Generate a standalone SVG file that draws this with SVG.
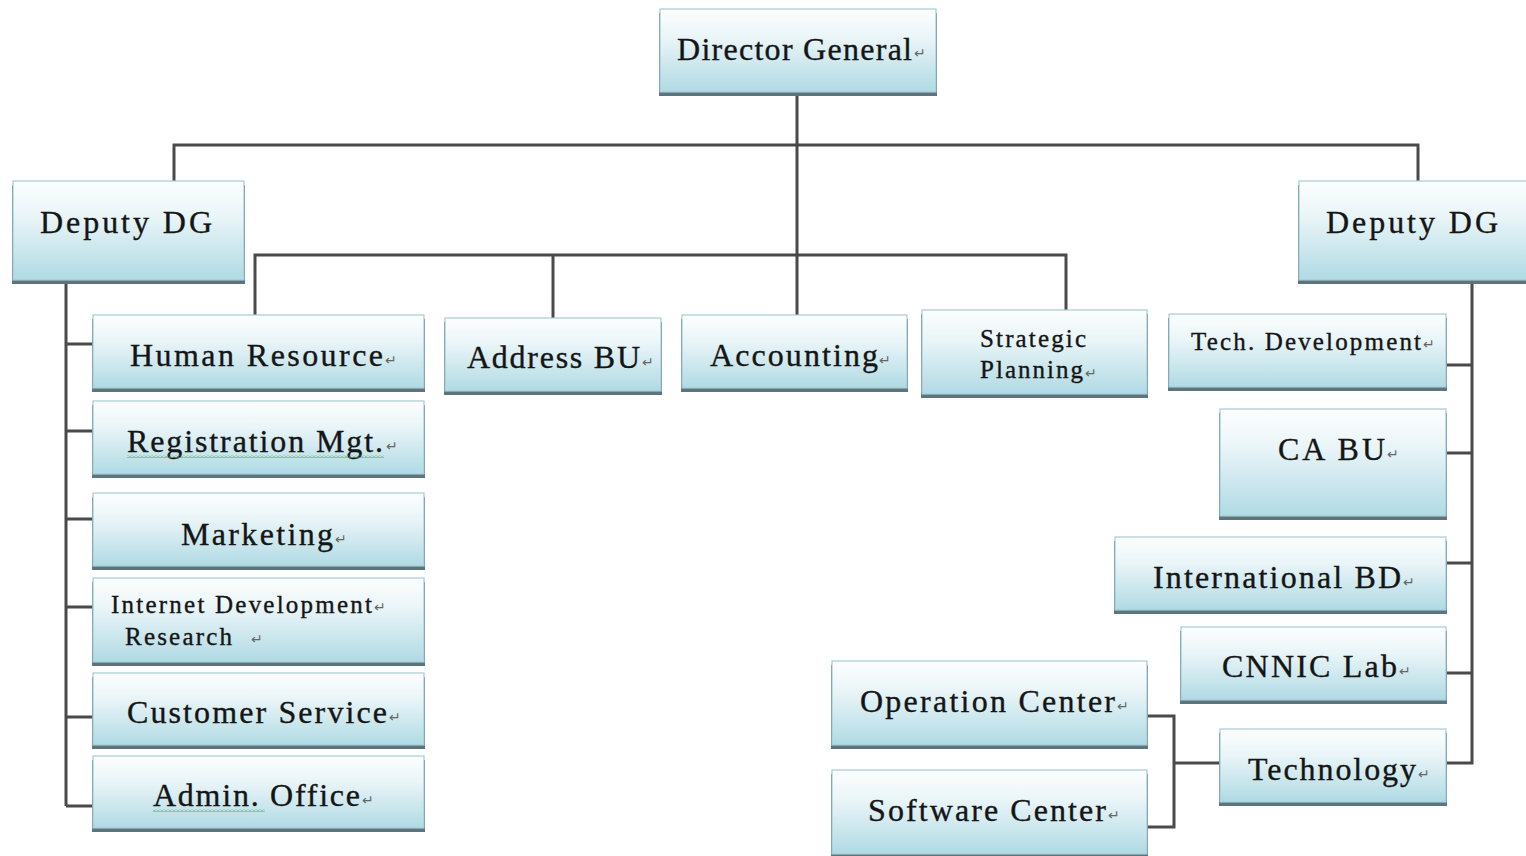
<svg xmlns="http://www.w3.org/2000/svg" width="1526" height="856" viewBox="0 0 1526 856">
<defs>
<linearGradient id="g" x1="0" y1="0" x2="0" y2="1">
<stop offset="0" stop-color="#fdfefe"/>
<stop offset="0.35" stop-color="#eaf5f8"/>
<stop offset="1" stop-color="#b0dae4"/>
</linearGradient>
<pattern id="wave" x="0" y="0" width="4" height="3" patternUnits="userSpaceOnUse">
<path d="M0 2.5 L2 0.5 L4 2.5" stroke="#3caa6a" stroke-width="1" fill="none"/>
</pattern>
<style>
.bx{fill:url(#g);stroke:#a6cbd5;stroke-width:1.2}
.sh{fill:#5e747c}
.t{font-family:"Liberation Serif","DejaVu Serif",serif;font-size:32px;fill:#151515;stroke:#151515;stroke-width:0.35}
.s{font-size:25px}
.pm{font-family:"DejaVu Sans",sans-serif;font-size:14px;fill:#666}
.c{stroke:#4a4a4a;stroke-width:3;fill:none}
</style>
</defs>
<rect width="1526" height="856" fill="#ffffff"/>

<g id="connectors">
<path class="c" d="M797 92 V315"/>
<path class="c" d="M174 181 V145 H1418 V181"/>
<path class="c" d="M255 315 V255 H1066 V310"/>
<path class="c" d="M553 255 V318"/>
<path class="c" d="M66 280 V806"/>
<path class="c" d="M66 344 H93 M66 431 H93 M66 519 H93 M66 607 H93 M66 717 H93 M66 806 H93"/>
<path class="c" d="M1472 280 V763 H1446"/>
<path class="c" d="M1446 365 H1472 M1446 453 H1472 M1446 563 H1472 M1446 673 H1472"/>
<path class="c" d="M1220 763 H1174 M1147 716 H1174 V827 H1147"/>
</g>

<g id="director-general">
<rect class="sh" x="659" y="13" width="278" height="83"/>
<rect class="bx" x="660" y="9" width="276" height="83"/>
<text class="t" x="677" y="60" textLength="235" lengthAdjust="spacing">Director General</text>
<text class="pm" x="914" y="58">↵</text>
</g>

<g id="deputy-dg-left">
<rect class="sh" x="12" y="185" width="233" height="99"/>
<rect class="bx" x="13" y="181" width="231" height="99"/>
<text class="t" x="40" y="233" textLength="172" lengthAdjust="spacing">Deputy DG</text>
</g>

<g id="deputy-dg-right">
<rect class="sh" x="1298" y="185" width="230" height="99"/>
<rect class="bx" x="1299" y="181" width="230" height="99"/>
<text class="t" x="1326" y="233" textLength="172" lengthAdjust="spacing">Deputy DG</text>
</g>

<g id="human-resource">
<rect class="sh" x="92" y="319" width="333" height="73"/>
<rect class="bx" x="93" y="315" width="331" height="73"/>
<text class="t" x="130" y="366" textLength="253" lengthAdjust="spacing">Human Resource</text>
<text class="pm" x="385" y="365">↵</text>
</g>

<g id="registration-mgt">
<rect class="sh" x="92" y="405" width="333" height="73"/>
<rect class="bx" x="93" y="401" width="331" height="73"/>
<text class="t" x="127" y="452" textLength="256" lengthAdjust="spacing">Registration Mgt.</text>
<rect x="127" y="455" width="257" height="3" fill="url(#wave)"/>
<text class="pm" x="386" y="451">↵</text>
</g>

<g id="marketing">
<rect class="sh" x="92" y="497" width="333" height="73"/>
<rect class="bx" x="93" y="493" width="331" height="73"/>
<text class="t" x="181" y="545" textLength="152" lengthAdjust="spacing">Marketing</text>
<text class="pm" x="335" y="544">↵</text>
</g>

<g id="internet-development-research">
<rect class="sh" x="92" y="582" width="333" height="84"/>
<rect class="bx" x="93" y="578" width="331" height="84"/>
<text class="t s" x="111" y="613" textLength="261" lengthAdjust="spacing">Internet Development</text>
<text class="pm" x="374" y="612">↵</text>
<text class="t s" x="125" y="645" textLength="107" lengthAdjust="spacing">Research</text>
<text class="pm" x="251" y="644">↵</text>
</g>

<g id="customer-service">
<rect class="sh" x="92" y="677" width="333" height="72"/>
<rect class="bx" x="93" y="673" width="331" height="72"/>
<text class="t" x="127" y="723" textLength="260" lengthAdjust="spacing">Customer Service</text>
<text class="pm" x="389" y="722">↵</text>
</g>

<g id="admin-office">
<rect class="sh" x="92" y="760" width="333" height="72"/>
<rect class="bx" x="93" y="756" width="331" height="72"/>
<text class="t" x="153" y="806" textLength="207" lengthAdjust="spacing">Admin. Office</text>
<rect x="153" y="809" width="112" height="3" fill="url(#wave)"/>
<text class="pm" x="362" y="805">↵</text>
</g>

<g id="address-bu">
<rect class="sh" x="444" y="322" width="218" height="73"/>
<rect class="bx" x="445" y="318" width="216" height="73"/>
<text class="t" x="467" y="368" textLength="173" lengthAdjust="spacing">Address BU</text>
<text class="pm" x="642" y="367">↵</text>
</g>

<g id="accounting">
<rect class="sh" x="681" y="319" width="227" height="73"/>
<rect class="bx" x="682" y="315" width="225" height="73"/>
<text class="t" x="710" y="366" textLength="168" lengthAdjust="spacing">Accounting</text>
<text class="pm" x="879" y="365">↵</text>
</g>

<g id="strategic-planning">
<rect class="sh" x="921" y="314" width="227" height="84"/>
<rect class="bx" x="922" y="310" width="225" height="84"/>
<text class="t s" x="980" y="347" textLength="106" lengthAdjust="spacing">Strategic</text>
<text class="t s" x="980" y="378" textLength="103" lengthAdjust="spacing">Planning</text>
<text class="pm" x="1085" y="378">↵</text>
</g>

<g id="tech-development">
<rect class="sh" x="1168" y="318" width="279" height="73"/>
<rect class="bx" x="1169" y="314" width="277" height="73"/>
<text class="t s" x="1191" y="350" textLength="230" lengthAdjust="spacing">Tech. Development</text>
<text class="pm" x="1423" y="349">↵</text>
</g>

<g id="ca-bu">
<rect class="sh" x="1219" y="413" width="228" height="107"/>
<rect class="bx" x="1220" y="409" width="226" height="107"/>
<text class="t" x="1278" y="460" textLength="107" lengthAdjust="spacing">CA BU</text>
<text class="pm" x="1387" y="459">↵</text>
</g>

<g id="international-bd">
<rect class="sh" x="1114" y="541" width="333" height="73"/>
<rect class="bx" x="1115" y="537" width="331" height="73"/>
<text class="t" x="1153" y="588" textLength="248" lengthAdjust="spacing">International BD</text>
<text class="pm" x="1403" y="587">↵</text>
</g>

<g id="cnnic-lab">
<rect class="sh" x="1180" y="631" width="267" height="73"/>
<rect class="bx" x="1181" y="627" width="265" height="73"/>
<text class="t" x="1222" y="677" textLength="175" lengthAdjust="spacing">CNNIC Lab</text>
<text class="pm" x="1399" y="676">↵</text>
</g>

<g id="technology">
<rect class="sh" x="1219" y="733" width="228" height="73"/>
<rect class="bx" x="1220" y="729" width="226" height="73"/>
<text class="t" x="1248" y="780" textLength="168" lengthAdjust="spacing">Technology</text>
<text class="pm" x="1418" y="779">↵</text>
</g>

<g id="operation-center">
<rect class="sh" x="831" y="665" width="317" height="84"/>
<rect class="bx" x="832" y="661" width="315" height="84"/>
<text class="t" x="860" y="712" textLength="255" lengthAdjust="spacing">Operation Center</text>
<text class="pm" x="1117" y="711">↵</text>
</g>

<g id="software-center">
<rect class="sh" x="831" y="774" width="317" height="84"/>
<rect class="bx" x="832" y="770" width="315" height="84"/>
<text class="t" x="868" y="821" textLength="238" lengthAdjust="spacing">Software Center</text>
<text class="pm" x="1108" y="820">↵</text>
</g>
</svg>
